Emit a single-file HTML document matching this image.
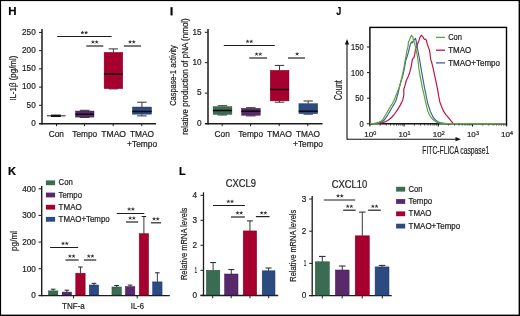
<!DOCTYPE html>
<html><head><meta charset="utf-8"><style>
html,body{margin:0;padding:0;background:#fff;}
body{width:520px;height:316px;overflow:hidden;}
svg{display:block;font-family:"Liberation Sans", sans-serif;will-change:transform;}
</style></head><body>
<svg width="520" height="316" viewBox="0 0 520 316">
<rect width="520" height="316" fill="#fff"/>
<rect x="0" y="0" width="520" height="1.1" fill="#000"/>
<rect x="0" y="0" width="1.1" height="316" fill="#000"/>
<rect x="518.6" y="0" width="1.4" height="316" fill="#000"/>
<rect x="0" y="314.6" width="520" height="1.4" fill="#000"/>
<text x="8.30" y="15.00" font-size="11.8" fill="#000" stroke="#000" stroke-width="0.22" textLength="8.33" lengthAdjust="spacingAndGlyphs" font-weight="bold">H</text>
<text x="336.20" y="15.40" font-size="11.8" fill="#000" stroke="#000" stroke-width="0.22" textLength="5.01" lengthAdjust="spacingAndGlyphs" font-weight="bold">J</text>
<text x="8.10" y="175.10" font-size="11.8" fill="#000" stroke="#000" stroke-width="0.22" textLength="8.02" lengthAdjust="spacingAndGlyphs" font-weight="bold">K</text>
<text x="179.00" y="175.30" font-size="11.8" fill="#000" stroke="#000" stroke-width="0.22" textLength="6.61" lengthAdjust="spacingAndGlyphs" font-weight="bold">L</text>
<rect x="170.5" y="7.2" width="2.1" height="8.2" fill="#000"/>
<line x1="42.00" y1="29.00" x2="42.00" y2="124.40" stroke="#1c1c1c" stroke-width="1.5"/>
<line x1="39.00" y1="123.50" x2="42.00" y2="123.50" stroke="#1c1c1c" stroke-width="1.0"/>
<text x="31.15" y="125.80" font-size="9" fill="#1e1e1e" stroke="#1e1e1e" stroke-width="0.22" textLength="4.56" lengthAdjust="spacingAndGlyphs">0</text>
<line x1="39.00" y1="105.29" x2="42.00" y2="105.29" stroke="#1c1c1c" stroke-width="1.0"/>
<text x="26.60" y="107.59" font-size="9" fill="#1e1e1e" stroke="#1e1e1e" stroke-width="0.22" textLength="9.12" lengthAdjust="spacingAndGlyphs">50</text>
<line x1="39.00" y1="87.08" x2="42.00" y2="87.08" stroke="#1c1c1c" stroke-width="1.0"/>
<text x="22.05" y="89.38" font-size="9" fill="#1e1e1e" stroke="#1e1e1e" stroke-width="0.22" textLength="13.64" lengthAdjust="spacingAndGlyphs">100</text>
<line x1="39.00" y1="68.87" x2="42.00" y2="68.87" stroke="#1c1c1c" stroke-width="1.0"/>
<text x="22.05" y="71.17" font-size="9" fill="#1e1e1e" stroke="#1e1e1e" stroke-width="0.22" textLength="13.64" lengthAdjust="spacingAndGlyphs">150</text>
<line x1="39.00" y1="50.66" x2="42.00" y2="50.66" stroke="#1c1c1c" stroke-width="1.0"/>
<text x="22.05" y="52.96" font-size="9" fill="#1e1e1e" stroke="#1e1e1e" stroke-width="0.22" textLength="13.64" lengthAdjust="spacingAndGlyphs">200</text>
<line x1="39.00" y1="32.45" x2="42.00" y2="32.45" stroke="#1c1c1c" stroke-width="1.0"/>
<text x="22.05" y="34.75" font-size="9" fill="#1e1e1e" stroke="#1e1e1e" stroke-width="0.22" textLength="13.64" lengthAdjust="spacingAndGlyphs">250</text>
<line x1="39.00" y1="123.70" x2="156.00" y2="123.70" stroke="#1c1c1c" stroke-width="1.4"/>
<line x1="56.50" y1="123.50" x2="56.50" y2="126.20" stroke="#1c1c1c" stroke-width="1.0"/>
<line x1="84.50" y1="123.50" x2="84.50" y2="126.20" stroke="#1c1c1c" stroke-width="1.0"/>
<line x1="113.20" y1="123.50" x2="113.20" y2="126.20" stroke="#1c1c1c" stroke-width="1.0"/>
<line x1="141.80" y1="123.50" x2="141.80" y2="126.20" stroke="#1c1c1c" stroke-width="1.0"/>
<text x="48.70" y="136.80" font-size="9" fill="#1e1e1e" stroke="#1e1e1e" stroke-width="0.22" textLength="15.20" lengthAdjust="spacingAndGlyphs">Con</text>
<text x="72.30" y="136.80" font-size="9" fill="#1e1e1e" stroke="#1e1e1e" stroke-width="0.22" textLength="24.81" lengthAdjust="spacingAndGlyphs">Tempo</text>
<text x="101.20" y="136.80" font-size="9" fill="#1e1e1e" stroke="#1e1e1e" stroke-width="0.22" textLength="24.89" lengthAdjust="spacingAndGlyphs">TMAO</text>
<text x="130.00" y="136.80" font-size="9" fill="#1e1e1e" stroke="#1e1e1e" stroke-width="0.22" textLength="23.99" lengthAdjust="spacingAndGlyphs">TMAO</text>
<text x="127.10" y="146.70" font-size="9" fill="#1e1e1e" stroke="#1e1e1e" stroke-width="0.22" textLength="30.00" lengthAdjust="spacingAndGlyphs">+Tempo</text>
<text transform="translate(15.90,100.80) rotate(-90)" x="0" y="0" font-size="9.2" fill="#1e1e1e" stroke="#1e1e1e" stroke-width="0.22" textLength="45.18" lengthAdjust="spacingAndGlyphs">IL-1β (pg/ml)</text>
<line x1="47.00" y1="115.80" x2="65.60" y2="115.80" stroke="#222" stroke-width="1.0"/>
<rect x="51.00" y="114.60" width="9.80" height="2.40" fill="#111"/>
<line x1="84.65" y1="110.30" x2="84.65" y2="111.00" stroke="#222" stroke-width="0.9"/>
<line x1="84.65" y1="117.10" x2="84.65" y2="117.40" stroke="#222" stroke-width="0.9"/>
<line x1="79.80" y1="110.30" x2="89.50" y2="110.30" stroke="#333" stroke-width="1.0"/>
<line x1="79.80" y1="117.40" x2="89.50" y2="117.40" stroke="#333" stroke-width="1.0"/>
<rect x="75.50" y="111.00" width="18.50" height="6.10" fill="#582a6c" stroke="#3a1450" stroke-width="0.4"/>
<line x1="75.30" y1="114.20" x2="94.00" y2="114.20" stroke="#0a0a0a" stroke-width="1.5"/>
<line x1="113.35" y1="48.90" x2="113.35" y2="52.30" stroke="#222" stroke-width="0.9"/>
<line x1="113.35" y1="88.70" x2="113.35" y2="88.90" stroke="#222" stroke-width="0.9"/>
<line x1="108.60" y1="48.90" x2="118.10" y2="48.90" stroke="#333" stroke-width="1.0"/>
<line x1="108.60" y1="88.90" x2="118.10" y2="88.90" stroke="#333" stroke-width="1.0"/>
<rect x="104.10" y="52.30" width="18.70" height="36.40" fill="#a6002f" stroke="#8a0025" stroke-width="0.4"/>
<line x1="103.90" y1="74.10" x2="122.80" y2="74.10" stroke="#0a0a0a" stroke-width="1.5"/>
<line x1="141.90" y1="102.20" x2="141.90" y2="107.00" stroke="#222" stroke-width="0.9"/>
<line x1="141.90" y1="114.20" x2="141.90" y2="115.90" stroke="#222" stroke-width="0.9"/>
<line x1="137.15" y1="102.20" x2="146.65" y2="102.20" stroke="#333" stroke-width="1.0"/>
<line x1="137.15" y1="115.90" x2="146.65" y2="115.90" stroke="#333" stroke-width="1.0"/>
<rect x="132.40" y="107.00" width="19.20" height="7.20" fill="#2c4b80" stroke="#1a336a" stroke-width="0.4"/>
<line x1="132.20" y1="111.50" x2="151.60" y2="111.50" stroke="#0a0a0a" stroke-width="1.5"/>
<line x1="57.20" y1="36.50" x2="111.70" y2="36.50" stroke="#1c1c1c" stroke-width="1.0"/>
<path d="M82.45,32.70L82.45,31.45M82.45,32.70L83.64,32.31M82.45,32.70L83.18,33.71M82.45,32.70L81.72,33.71M82.45,32.70L81.26,32.31" stroke="#2a2a2a" stroke-width="0.85" stroke-linecap="round" fill="none"/>
<path d="M86.15,32.70L86.15,31.45M86.15,32.70L87.34,32.31M86.15,32.70L86.88,33.71M86.15,32.70L85.42,33.71M86.15,32.70L84.96,32.31" stroke="#2a2a2a" stroke-width="0.85" stroke-linecap="round" fill="none"/>
<line x1="86.30" y1="46.00" x2="103.30" y2="46.00" stroke="#222" stroke-width="1.2"/>
<path d="M92.95,42.10L92.95,40.85M92.95,42.10L94.14,41.71M92.95,42.10L93.68,43.11M92.95,42.10L92.22,43.11M92.95,42.10L91.76,41.71" stroke="#2a2a2a" stroke-width="0.85" stroke-linecap="round" fill="none"/>
<path d="M96.65,42.10L96.65,40.85M96.65,42.10L97.84,41.71M96.65,42.10L97.38,43.11M96.65,42.10L95.92,43.11M96.65,42.10L95.46,41.71" stroke="#2a2a2a" stroke-width="0.85" stroke-linecap="round" fill="none"/>
<line x1="123.80" y1="46.00" x2="141.00" y2="46.00" stroke="#222" stroke-width="1.2"/>
<path d="M130.05,42.00L130.05,40.75M130.05,42.00L131.24,41.61M130.05,42.00L130.78,43.01M130.05,42.00L129.32,43.01M130.05,42.00L128.86,41.61" stroke="#2a2a2a" stroke-width="0.85" stroke-linecap="round" fill="none"/>
<path d="M133.75,42.00L133.75,40.75M133.75,42.00L134.94,41.61M133.75,42.00L134.48,43.01M133.75,42.00L133.02,43.01M133.75,42.00L132.56,41.61" stroke="#2a2a2a" stroke-width="0.85" stroke-linecap="round" fill="none"/>
<line x1="208.00" y1="29.00" x2="208.00" y2="124.40" stroke="#1c1c1c" stroke-width="1.5"/>
<line x1="204.80" y1="123.50" x2="207.80" y2="123.50" stroke="#1c1c1c" stroke-width="1.0"/>
<text x="196.95" y="125.80" font-size="9" fill="#1e1e1e" stroke="#1e1e1e" stroke-width="0.22" textLength="4.56" lengthAdjust="spacingAndGlyphs">0</text>
<line x1="204.80" y1="93.10" x2="207.80" y2="93.10" stroke="#1c1c1c" stroke-width="1.0"/>
<text x="196.95" y="95.40" font-size="9" fill="#1e1e1e" stroke="#1e1e1e" stroke-width="0.22" textLength="4.56" lengthAdjust="spacingAndGlyphs">5</text>
<line x1="204.80" y1="62.70" x2="207.80" y2="62.70" stroke="#1c1c1c" stroke-width="1.0"/>
<text x="192.40" y="65.00" font-size="9" fill="#1e1e1e" stroke="#1e1e1e" stroke-width="0.22" textLength="9.12" lengthAdjust="spacingAndGlyphs">10</text>
<line x1="204.80" y1="32.30" x2="207.80" y2="32.30" stroke="#1c1c1c" stroke-width="1.0"/>
<text x="192.40" y="34.60" font-size="9" fill="#1e1e1e" stroke="#1e1e1e" stroke-width="0.22" textLength="9.12" lengthAdjust="spacingAndGlyphs">15</text>
<line x1="205.00" y1="123.70" x2="322.50" y2="123.70" stroke="#1c1c1c" stroke-width="1.4"/>
<line x1="222.20" y1="123.50" x2="222.20" y2="126.20" stroke="#1c1c1c" stroke-width="1.0"/>
<line x1="250.60" y1="123.50" x2="250.60" y2="126.20" stroke="#1c1c1c" stroke-width="1.0"/>
<line x1="279.20" y1="123.50" x2="279.20" y2="126.20" stroke="#1c1c1c" stroke-width="1.0"/>
<line x1="307.80" y1="123.50" x2="307.80" y2="126.20" stroke="#1c1c1c" stroke-width="1.0"/>
<text x="214.60" y="137.10" font-size="9" fill="#1e1e1e" stroke="#1e1e1e" stroke-width="0.22" textLength="15.20" lengthAdjust="spacingAndGlyphs">Con</text>
<text x="238.20" y="137.10" font-size="9" fill="#1e1e1e" stroke="#1e1e1e" stroke-width="0.22" textLength="24.81" lengthAdjust="spacingAndGlyphs">Tempo</text>
<text x="267.10" y="137.10" font-size="9" fill="#1e1e1e" stroke="#1e1e1e" stroke-width="0.22" textLength="24.89" lengthAdjust="spacingAndGlyphs">TMAO</text>
<text x="295.90" y="137.10" font-size="9" fill="#1e1e1e" stroke="#1e1e1e" stroke-width="0.22" textLength="23.99" lengthAdjust="spacingAndGlyphs">TMAO</text>
<text x="293.00" y="147.00" font-size="9" fill="#1e1e1e" stroke="#1e1e1e" stroke-width="0.22" textLength="30.00" lengthAdjust="spacingAndGlyphs">+Tempo</text>
<text transform="translate(176.20,105.80) rotate(-90)" x="0" y="0" font-size="9" fill="#1e1e1e" stroke="#1e1e1e" stroke-width="0.22" textLength="60.60" lengthAdjust="spacingAndGlyphs">Caspase-1 activity</text>
<text transform="translate(188.40,134.80) rotate(-90)" x="0" y="0" font-size="9" fill="#1e1e1e" stroke="#1e1e1e" stroke-width="0.22" textLength="116.58" lengthAdjust="spacingAndGlyphs">relative production of pNA (nmol)</text>
<line x1="222.40" y1="105.70" x2="222.40" y2="106.60" stroke="#222" stroke-width="0.9"/>
<line x1="222.40" y1="114.40" x2="222.40" y2="115.00" stroke="#222" stroke-width="0.9"/>
<line x1="217.70" y1="105.70" x2="227.10" y2="105.70" stroke="#333" stroke-width="1.0"/>
<line x1="217.70" y1="115.00" x2="227.10" y2="115.00" stroke="#333" stroke-width="1.0"/>
<rect x="213.10" y="106.60" width="18.80" height="7.80" fill="#3a6b53" stroke="#1f4a35" stroke-width="0.4"/>
<line x1="212.90" y1="110.50" x2="231.90" y2="110.50" stroke="#0a0a0a" stroke-width="1.5"/>
<line x1="250.80" y1="107.70" x2="250.80" y2="108.30" stroke="#222" stroke-width="0.9"/>
<line x1="250.80" y1="115.30" x2="250.80" y2="115.90" stroke="#222" stroke-width="0.9"/>
<line x1="246.05" y1="107.70" x2="255.55" y2="107.70" stroke="#333" stroke-width="1.0"/>
<line x1="246.05" y1="115.90" x2="255.55" y2="115.90" stroke="#333" stroke-width="1.0"/>
<rect x="241.50" y="108.30" width="18.80" height="7.00" fill="#582a6c" stroke="#3a1450" stroke-width="0.4"/>
<line x1="241.30" y1="111.20" x2="260.30" y2="111.20" stroke="#0a0a0a" stroke-width="1.5"/>
<line x1="279.50" y1="65.40" x2="279.50" y2="70.30" stroke="#222" stroke-width="0.9"/>
<line x1="279.50" y1="100.90" x2="279.50" y2="102.20" stroke="#222" stroke-width="0.9"/>
<line x1="274.75" y1="65.40" x2="284.25" y2="65.40" stroke="#333" stroke-width="1.0"/>
<line x1="274.75" y1="102.20" x2="284.25" y2="102.20" stroke="#333" stroke-width="1.0"/>
<rect x="270.20" y="70.30" width="18.80" height="30.60" fill="#a6002f" stroke="#8a0025" stroke-width="0.4"/>
<line x1="270.00" y1="89.50" x2="289.00" y2="89.50" stroke="#0a0a0a" stroke-width="1.5"/>
<line x1="308.20" y1="101.00" x2="308.20" y2="103.60" stroke="#222" stroke-width="0.9"/>
<line x1="308.20" y1="113.70" x2="308.20" y2="114.20" stroke="#222" stroke-width="0.9"/>
<line x1="303.50" y1="101.00" x2="312.90" y2="101.00" stroke="#333" stroke-width="1.0"/>
<line x1="303.50" y1="114.20" x2="312.90" y2="114.20" stroke="#333" stroke-width="1.0"/>
<rect x="298.90" y="103.60" width="18.80" height="10.10" fill="#2c4b80" stroke="#1a336a" stroke-width="0.4"/>
<line x1="298.70" y1="111.20" x2="317.70" y2="111.20" stroke="#0a0a0a" stroke-width="1.5"/>
<line x1="223.80" y1="45.50" x2="274.80" y2="45.50" stroke="#1c1c1c" stroke-width="1.0"/>
<path d="M247.55,41.50L247.55,40.25M247.55,41.50L248.74,41.11M247.55,41.50L248.28,42.51M247.55,41.50L246.82,42.51M247.55,41.50L246.36,41.11" stroke="#2a2a2a" stroke-width="0.85" stroke-linecap="round" fill="none"/>
<path d="M251.25,41.50L251.25,40.25M251.25,41.50L252.44,41.11M251.25,41.50L251.98,42.51M251.25,41.50L250.52,42.51M251.25,41.50L250.06,41.11" stroke="#2a2a2a" stroke-width="0.85" stroke-linecap="round" fill="none"/>
<line x1="249.20" y1="58.00" x2="267.10" y2="58.00" stroke="#222" stroke-width="1.2"/>
<path d="M256.55,54.20L256.55,52.95M256.55,54.20L257.74,53.81M256.55,54.20L257.28,55.21M256.55,54.20L255.82,55.21M256.55,54.20L255.36,53.81" stroke="#2a2a2a" stroke-width="0.85" stroke-linecap="round" fill="none"/>
<path d="M260.25,54.20L260.25,52.95M260.25,54.20L261.44,53.81M260.25,54.20L260.98,55.21M260.25,54.20L259.52,55.21M260.25,54.20L259.06,53.81" stroke="#2a2a2a" stroke-width="0.85" stroke-linecap="round" fill="none"/>
<line x1="288.00" y1="58.00" x2="305.00" y2="58.00" stroke="#222" stroke-width="1.2"/>
<path d="M297.10,54.00L297.10,52.75M297.10,54.00L298.29,53.61M297.10,54.00L297.83,55.01M297.10,54.00L296.37,55.01M297.10,54.00L295.91,53.61" stroke="#2a2a2a" stroke-width="0.85" stroke-linecap="round" fill="none"/>
<rect x="369.9" y="27.4" width="136.6" height="96.4" fill="none" stroke="#000" stroke-width="1.4"/>
<line x1="367.00" y1="123.80" x2="370.00" y2="123.80" stroke="#1c1c1c" stroke-width="1.0"/>
<text x="359.50" y="126.80" font-size="9" fill="#1e1e1e" stroke="#1e1e1e" stroke-width="0.22" textLength="4.21" lengthAdjust="spacingAndGlyphs">0</text>
<line x1="367.00" y1="98.20" x2="370.00" y2="98.20" stroke="#1c1c1c" stroke-width="1.0"/>
<text x="355.30" y="101.20" font-size="9" fill="#1e1e1e" stroke="#1e1e1e" stroke-width="0.22" textLength="8.42" lengthAdjust="spacingAndGlyphs">50</text>
<line x1="367.00" y1="72.60" x2="370.00" y2="72.60" stroke="#1c1c1c" stroke-width="1.0"/>
<text x="351.10" y="75.60" font-size="9" fill="#1e1e1e" stroke="#1e1e1e" stroke-width="0.22" textLength="12.59" lengthAdjust="spacingAndGlyphs">100</text>
<line x1="367.00" y1="47.00" x2="370.00" y2="47.00" stroke="#1c1c1c" stroke-width="1.0"/>
<text x="351.10" y="50.00" font-size="9" fill="#1e1e1e" stroke="#1e1e1e" stroke-width="0.22" textLength="12.59" lengthAdjust="spacingAndGlyphs">150</text>
<line x1="380.20" y1="123.80" x2="380.20" y2="125.60" stroke="#222" stroke-width="0.8"/>
<line x1="386.22" y1="123.80" x2="386.22" y2="125.60" stroke="#222" stroke-width="0.8"/>
<line x1="390.49" y1="123.80" x2="390.49" y2="125.60" stroke="#222" stroke-width="0.8"/>
<line x1="393.80" y1="123.80" x2="393.80" y2="125.60" stroke="#222" stroke-width="0.8"/>
<line x1="396.51" y1="123.80" x2="396.51" y2="125.60" stroke="#222" stroke-width="0.8"/>
<line x1="398.80" y1="123.80" x2="398.80" y2="125.60" stroke="#222" stroke-width="0.8"/>
<line x1="400.79" y1="123.80" x2="400.79" y2="125.60" stroke="#222" stroke-width="0.8"/>
<line x1="402.54" y1="123.80" x2="402.54" y2="125.60" stroke="#222" stroke-width="0.8"/>
<line x1="414.40" y1="123.80" x2="414.40" y2="125.60" stroke="#222" stroke-width="0.8"/>
<line x1="420.42" y1="123.80" x2="420.42" y2="125.60" stroke="#222" stroke-width="0.8"/>
<line x1="424.69" y1="123.80" x2="424.69" y2="125.60" stroke="#222" stroke-width="0.8"/>
<line x1="428.00" y1="123.80" x2="428.00" y2="125.60" stroke="#222" stroke-width="0.8"/>
<line x1="430.71" y1="123.80" x2="430.71" y2="125.60" stroke="#222" stroke-width="0.8"/>
<line x1="433.00" y1="123.80" x2="433.00" y2="125.60" stroke="#222" stroke-width="0.8"/>
<line x1="434.99" y1="123.80" x2="434.99" y2="125.60" stroke="#222" stroke-width="0.8"/>
<line x1="436.74" y1="123.80" x2="436.74" y2="125.60" stroke="#222" stroke-width="0.8"/>
<line x1="448.60" y1="123.80" x2="448.60" y2="125.60" stroke="#222" stroke-width="0.8"/>
<line x1="454.62" y1="123.80" x2="454.62" y2="125.60" stroke="#222" stroke-width="0.8"/>
<line x1="458.89" y1="123.80" x2="458.89" y2="125.60" stroke="#222" stroke-width="0.8"/>
<line x1="462.20" y1="123.80" x2="462.20" y2="125.60" stroke="#222" stroke-width="0.8"/>
<line x1="464.91" y1="123.80" x2="464.91" y2="125.60" stroke="#222" stroke-width="0.8"/>
<line x1="467.20" y1="123.80" x2="467.20" y2="125.60" stroke="#222" stroke-width="0.8"/>
<line x1="469.19" y1="123.80" x2="469.19" y2="125.60" stroke="#222" stroke-width="0.8"/>
<line x1="470.94" y1="123.80" x2="470.94" y2="125.60" stroke="#222" stroke-width="0.8"/>
<line x1="482.80" y1="123.80" x2="482.80" y2="125.60" stroke="#222" stroke-width="0.8"/>
<line x1="488.82" y1="123.80" x2="488.82" y2="125.60" stroke="#222" stroke-width="0.8"/>
<line x1="493.09" y1="123.80" x2="493.09" y2="125.60" stroke="#222" stroke-width="0.8"/>
<line x1="496.40" y1="123.80" x2="496.40" y2="125.60" stroke="#222" stroke-width="0.8"/>
<line x1="499.11" y1="123.80" x2="499.11" y2="125.60" stroke="#222" stroke-width="0.8"/>
<line x1="501.40" y1="123.80" x2="501.40" y2="125.60" stroke="#222" stroke-width="0.8"/>
<line x1="503.39" y1="123.80" x2="503.39" y2="125.60" stroke="#222" stroke-width="0.8"/>
<line x1="505.14" y1="123.80" x2="505.14" y2="125.60" stroke="#222" stroke-width="0.8"/>
<line x1="369.90" y1="123.80" x2="369.90" y2="126.50" stroke="#000" stroke-width="1.0"/>
<line x1="404.10" y1="123.80" x2="404.10" y2="126.50" stroke="#000" stroke-width="1.0"/>
<line x1="438.30" y1="123.80" x2="438.30" y2="126.50" stroke="#000" stroke-width="1.0"/>
<line x1="472.50" y1="123.80" x2="472.50" y2="126.50" stroke="#000" stroke-width="1.0"/>
<line x1="506.70" y1="123.80" x2="506.70" y2="126.50" stroke="#000" stroke-width="1.0"/>
<text x="364.30" y="137.30" font-size="8.0" fill="#1e1e1e" stroke="#1e1e1e" stroke-width="0.22" textLength="8.92" lengthAdjust="spacingAndGlyphs">10</text>
<text x="373.30" y="134.70" font-size="5.5" fill="#1e1e1e" stroke="#1e1e1e" stroke-width="0.22" textLength="3.01" lengthAdjust="spacingAndGlyphs">0</text>
<text x="398.50" y="137.30" font-size="8.0" fill="#1e1e1e" stroke="#1e1e1e" stroke-width="0.22" textLength="8.92" lengthAdjust="spacingAndGlyphs">10</text>
<text x="407.50" y="134.70" font-size="5.5" fill="#1e1e1e" stroke="#1e1e1e" stroke-width="0.22" textLength="3.01" lengthAdjust="spacingAndGlyphs">1</text>
<text x="432.70" y="137.30" font-size="8.0" fill="#1e1e1e" stroke="#1e1e1e" stroke-width="0.22" textLength="8.92" lengthAdjust="spacingAndGlyphs">10</text>
<text x="441.70" y="134.70" font-size="5.5" fill="#1e1e1e" stroke="#1e1e1e" stroke-width="0.22" textLength="3.01" lengthAdjust="spacingAndGlyphs">2</text>
<text x="466.90" y="137.30" font-size="8.0" fill="#1e1e1e" stroke="#1e1e1e" stroke-width="0.22" textLength="8.92" lengthAdjust="spacingAndGlyphs">10</text>
<text x="475.90" y="134.70" font-size="5.5" fill="#1e1e1e" stroke="#1e1e1e" stroke-width="0.22" textLength="3.01" lengthAdjust="spacingAndGlyphs">3</text>
<text x="501.10" y="137.30" font-size="8.0" fill="#1e1e1e" stroke="#1e1e1e" stroke-width="0.22" textLength="8.92" lengthAdjust="spacingAndGlyphs">10</text>
<text x="510.10" y="134.70" font-size="5.5" fill="#1e1e1e" stroke="#1e1e1e" stroke-width="0.22" textLength="3.01" lengthAdjust="spacingAndGlyphs">4</text>
<line x1="347.00" y1="139.20" x2="457.00" y2="139.20" stroke="#111" stroke-width="1.1"/>
<path d="M461,139.2 L455.5,137.1 L455.5,141.3 Z" fill="#111"/>
<line x1="347.00" y1="139.80" x2="347.00" y2="43.00" stroke="#111" stroke-width="1.1"/>
<path d="M347,39 L344.9,44.5 L349.1,44.5 Z" fill="#111"/>
<text transform="translate(342.20,100.30) rotate(-90)" x="0" y="0" font-size="10.6" fill="#1e1e1e" stroke="#1e1e1e" stroke-width="0.22" textLength="20.29" lengthAdjust="spacingAndGlyphs">Count</text>
<text x="422.30" y="153.50" font-size="10.6" fill="#1e1e1e" stroke="#1e1e1e" stroke-width="0.22" textLength="66.92" lengthAdjust="spacingAndGlyphs">FITC-FLICA caspase1</text>
<line x1="436.00" y1="37.40" x2="445.00" y2="37.40" stroke="#5aa53c" stroke-width="1.3"/>
<text x="448.20" y="40.10" font-size="8.2" fill="#1e1e1e" stroke="#1e1e1e" stroke-width="0.22" textLength="13.80" lengthAdjust="spacingAndGlyphs">Con</text>
<line x1="436.00" y1="50.20" x2="445.00" y2="50.20" stroke="#c01440" stroke-width="1.3"/>
<text x="448.20" y="52.90" font-size="8.2" fill="#1e1e1e" stroke="#1e1e1e" stroke-width="0.22" textLength="22.99" lengthAdjust="spacingAndGlyphs">TMAO</text>
<line x1="436.00" y1="62.90" x2="445.00" y2="62.90" stroke="#42609c" stroke-width="1.3"/>
<text x="448.20" y="65.60" font-size="8.2" fill="#1e1e1e" stroke="#1e1e1e" stroke-width="0.22" textLength="51.79" lengthAdjust="spacingAndGlyphs">TMAO+Tempo</text>
<polyline points="370,123.8 379.5,123.2 382.5,122.6 385.7,121.6 388.5,120.0 391,118 393.8,115.0 396.2,111.7 398.4,108.4 400.4,104.9 402.0,101.8 403.0,99.2 403.8,95.0 403.8,89.3 405.2,84.9 406.3,80.5 408.0,77.1 409.6,72.7 411.3,66.1 412.4,59.4 413.5,57.8 414.0,57.5 414.7,54.7 415.2,50.9 415.9,48.0 416.9,46.6 417.8,43.3 419.0,40.4 420.1,37.1 421.3,35.2 422.8,36.6 423.7,38.5 424.5,39.5 425.4,39.0 426.4,40.4 427.3,44.2 428.3,47.1 429.4,49.9 430.2,54.7 430.7,59.4 431.8,62.8 433.2,68.3 434.5,74.9 436.2,82.7 437.6,89.3 438.5,95.0 439.8,101.9 441.5,106.5 443.7,111.4 446.0,114.8 448.5,117.7 451.0,120.8 453.2,123.5 506,123.6" fill="none" stroke="#c01440" stroke-width="1.2" stroke-linejoin="round"/>
<polyline points="370,123.7 378,123.4 381,122.3 383.7,120.6 385.8,117.8 387.8,114.8 390,111.0 392,107.5 394.0,104.2 395.7,101.3 397.0,97.0 398.3,92.0 399.7,86.0 401.3,80.5 403.0,74.9 404.4,68.3 405.8,60.5 406.9,57.2 407.5,55.3 408.5,51.8 409.5,47.6 410.4,44.2 411.9,41.9 412.6,42.5 413.5,40.5 415.4,38.3 416.1,40.4 416.6,44.2 417.6,49.0 418.5,53.7 419.4,58.5 420.7,66.1 421.8,72.7 423.2,80.5 424.6,88.2 425.5,92.5 427.5,102.5 430.3,111.4 433.4,117.7 435.5,120.0 437.4,121.5 442,123.2 446,123.6 506,123.6" fill="none" stroke="#42609c" stroke-width="1.2" stroke-linejoin="round"/>
<polyline points="370,123.6 375,123.3 378.4,122.3 380.8,121.3 382.6,120 384.6,116.5 386.8,112.7 388.6,109.6 390.4,106.5 392.2,103.8 393.6,101.3 394.8,98.5 395.8,95.6 397.4,91.6 399.1,88.2 400.8,81.6 402.4,74.9 403.8,68.3 404.9,61.6 405.5,58.5 406.2,54.7 407.1,49.9 408.1,46.1 408.5,41.4 409.5,40.5 409.7,39.5 410.4,37.1 411.6,35.2 412.8,37.1 413.3,39.5 414.2,42.3 415.2,45.7 416.1,49.9 417.1,54.7 417.9,59.5 419.0,69.4 420.1,76.0 421.3,81.6 422.4,88.2 423.5,92.5 425.5,101.9 427.9,111.4 429.5,115.0 431.1,117.7 433.0,119.6 435,121 437.5,122.4 440,123.2 446,123.6 506,123.6" fill="none" stroke="#5aa53c" stroke-width="1.2" stroke-linejoin="round"/>
<line x1="41.70" y1="186.00" x2="41.70" y2="296.30" stroke="#1c1c1c" stroke-width="1.4"/>
<line x1="38.50" y1="295.40" x2="41.50" y2="295.40" stroke="#1c1c1c" stroke-width="1.0"/>
<text x="31.25" y="298.40" font-size="9" fill="#1e1e1e" stroke="#1e1e1e" stroke-width="0.22" textLength="4.56" lengthAdjust="spacingAndGlyphs">0</text>
<line x1="38.50" y1="268.75" x2="41.50" y2="268.75" stroke="#1c1c1c" stroke-width="1.0"/>
<text x="22.15" y="271.75" font-size="9" fill="#1e1e1e" stroke="#1e1e1e" stroke-width="0.22" textLength="13.64" lengthAdjust="spacingAndGlyphs">100</text>
<line x1="38.50" y1="242.10" x2="41.50" y2="242.10" stroke="#1c1c1c" stroke-width="1.0"/>
<text x="22.15" y="245.10" font-size="9" fill="#1e1e1e" stroke="#1e1e1e" stroke-width="0.22" textLength="13.64" lengthAdjust="spacingAndGlyphs">200</text>
<line x1="38.50" y1="215.45" x2="41.50" y2="215.45" stroke="#1c1c1c" stroke-width="1.0"/>
<text x="22.15" y="218.45" font-size="9" fill="#1e1e1e" stroke="#1e1e1e" stroke-width="0.22" textLength="13.64" lengthAdjust="spacingAndGlyphs">300</text>
<line x1="38.50" y1="188.80" x2="41.50" y2="188.80" stroke="#1c1c1c" stroke-width="1.0"/>
<text x="22.15" y="191.80" font-size="9" fill="#1e1e1e" stroke="#1e1e1e" stroke-width="0.22" textLength="13.64" lengthAdjust="spacingAndGlyphs">400</text>
<line x1="38.70" y1="295.60" x2="169.80" y2="295.60" stroke="#1c1c1c" stroke-width="1.4"/>
<line x1="73.50" y1="295.40" x2="73.50" y2="298.40" stroke="#1c1c1c" stroke-width="1.0"/>
<line x1="137.20" y1="295.40" x2="137.20" y2="298.40" stroke="#1c1c1c" stroke-width="1.0"/>
<text x="62.00" y="309.20" font-size="9" fill="#1e1e1e" stroke="#1e1e1e" stroke-width="0.22" textLength="22.78" lengthAdjust="spacingAndGlyphs">TNF-a</text>
<text x="130.80" y="309.00" font-size="9" fill="#1e1e1e" stroke="#1e1e1e" stroke-width="0.22" textLength="13.19" lengthAdjust="spacingAndGlyphs">IL-6</text>
<text transform="translate(17.00,251.00) rotate(-90)" x="0" y="0" font-size="9.9" fill="#1e1e1e" stroke="#1e1e1e" stroke-width="0.22" textLength="20.20" lengthAdjust="spacingAndGlyphs">pg/ml</text>
<rect x="45.90" y="180.40" width="9.20" height="4.80" fill="#3a6b53"/>
<text x="58.60" y="185.30" font-size="8.2" fill="#1e1e1e" stroke="#1e1e1e" stroke-width="0.22" textLength="14.20" lengthAdjust="spacingAndGlyphs">Con</text>
<rect x="45.90" y="192.60" width="9.20" height="4.80" fill="#582a6c"/>
<text x="58.60" y="197.50" font-size="8.2" fill="#1e1e1e" stroke="#1e1e1e" stroke-width="0.22" textLength="23.41" lengthAdjust="spacingAndGlyphs">Tempo</text>
<rect x="45.90" y="204.80" width="9.20" height="4.80" fill="#a6002f"/>
<text x="58.60" y="209.70" font-size="8.2" fill="#1e1e1e" stroke="#1e1e1e" stroke-width="0.22" textLength="23.09" lengthAdjust="spacingAndGlyphs">TMAO</text>
<rect x="45.90" y="216.90" width="9.20" height="4.80" fill="#2c4b80"/>
<text x="58.60" y="221.80" font-size="8.2" fill="#1e1e1e" stroke="#1e1e1e" stroke-width="0.22" textLength="51.09" lengthAdjust="spacingAndGlyphs">TMAO+Tempo</text>
<line x1="53.15" y1="289.20" x2="53.15" y2="290.90" stroke="#222" stroke-width="0.9"/>
<line x1="50.85" y1="289.20" x2="55.45" y2="289.20" stroke="#222" stroke-width="1.0"/>
<rect x="48.45" y="290.90" width="9.40" height="4.10" fill="#3a6b53" stroke="#1f4a35" stroke-width="0.5"/>
<line x1="66.85" y1="290.20" x2="66.85" y2="292.10" stroke="#222" stroke-width="0.9"/>
<line x1="64.55" y1="290.20" x2="69.15" y2="290.20" stroke="#222" stroke-width="1.0"/>
<rect x="62.15" y="292.10" width="9.40" height="2.90" fill="#582a6c" stroke="#3a1450" stroke-width="0.5"/>
<line x1="80.45" y1="267.00" x2="80.45" y2="273.20" stroke="#222" stroke-width="0.9"/>
<line x1="78.15" y1="267.00" x2="82.75" y2="267.00" stroke="#222" stroke-width="1.0"/>
<rect x="75.75" y="273.20" width="9.40" height="21.80" fill="#a6002f" stroke="#8a0025" stroke-width="0.5"/>
<line x1="93.95" y1="283.30" x2="93.95" y2="285.00" stroke="#222" stroke-width="0.9"/>
<line x1="91.65" y1="283.30" x2="96.25" y2="283.30" stroke="#222" stroke-width="1.0"/>
<rect x="89.25" y="285.00" width="9.40" height="10.00" fill="#2c4b80" stroke="#1a336a" stroke-width="0.5"/>
<line x1="116.65" y1="285.50" x2="116.65" y2="287.00" stroke="#222" stroke-width="0.9"/>
<line x1="114.35" y1="285.50" x2="118.95" y2="285.50" stroke="#222" stroke-width="1.0"/>
<rect x="111.95" y="287.00" width="9.40" height="8.00" fill="#3a6b53" stroke="#1f4a35" stroke-width="0.5"/>
<line x1="130.15" y1="285.10" x2="130.15" y2="286.60" stroke="#222" stroke-width="0.9"/>
<line x1="127.85" y1="285.10" x2="132.45" y2="285.10" stroke="#222" stroke-width="1.0"/>
<rect x="125.45" y="286.60" width="9.40" height="8.40" fill="#582a6c" stroke="#3a1450" stroke-width="0.5"/>
<line x1="143.90" y1="216.50" x2="143.90" y2="233.60" stroke="#222" stroke-width="0.9"/>
<line x1="141.60" y1="216.50" x2="146.20" y2="216.50" stroke="#222" stroke-width="1.0"/>
<rect x="139.20" y="233.60" width="9.40" height="61.40" fill="#a6002f" stroke="#8a0025" stroke-width="0.5"/>
<line x1="157.35" y1="272.80" x2="157.35" y2="281.90" stroke="#222" stroke-width="0.9"/>
<line x1="155.05" y1="272.80" x2="159.65" y2="272.80" stroke="#222" stroke-width="1.0"/>
<rect x="152.65" y="281.90" width="9.40" height="13.10" fill="#2c4b80" stroke="#1a336a" stroke-width="0.5"/>
<line x1="50.10" y1="247.50" x2="78.20" y2="247.50" stroke="#1c1c1c" stroke-width="1.0"/>
<path d="M63.05,243.50L63.05,242.25M63.05,243.50L64.24,243.11M63.05,243.50L63.78,244.51M63.05,243.50L62.32,244.51M63.05,243.50L61.86,243.11" stroke="#2a2a2a" stroke-width="0.85" stroke-linecap="round" fill="none"/>
<path d="M66.75,243.50L66.75,242.25M66.75,243.50L67.94,243.11M66.75,243.50L67.48,244.51M66.75,243.50L66.02,244.51M66.75,243.50L65.56,243.11" stroke="#2a2a2a" stroke-width="0.85" stroke-linecap="round" fill="none"/>
<line x1="65.50" y1="260.00" x2="78.60" y2="260.00" stroke="#222" stroke-width="1.2"/>
<path d="M69.85,256.20L69.85,254.95M69.85,256.20L71.04,255.81M69.85,256.20L70.58,257.21M69.85,256.20L69.12,257.21M69.85,256.20L68.66,255.81" stroke="#2a2a2a" stroke-width="0.85" stroke-linecap="round" fill="none"/>
<path d="M73.55,256.20L73.55,254.95M73.55,256.20L74.74,255.81M73.55,256.20L74.28,257.21M73.55,256.20L72.82,257.21M73.55,256.20L72.36,255.81" stroke="#2a2a2a" stroke-width="0.85" stroke-linecap="round" fill="none"/>
<line x1="83.90" y1="260.00" x2="96.20" y2="260.00" stroke="#222" stroke-width="1.2"/>
<path d="M88.75,256.20L88.75,254.95M88.75,256.20L89.94,255.81M88.75,256.20L89.48,257.21M88.75,256.20L88.02,257.21M88.75,256.20L87.56,255.81" stroke="#2a2a2a" stroke-width="0.85" stroke-linecap="round" fill="none"/>
<path d="M92.45,256.20L92.45,254.95M92.45,256.20L93.64,255.81M92.45,256.20L93.18,257.21M92.45,256.20L91.72,257.21M92.45,256.20L91.26,255.81" stroke="#2a2a2a" stroke-width="0.85" stroke-linecap="round" fill="none"/>
<line x1="116.80" y1="213.50" x2="144.30" y2="213.50" stroke="#1c1c1c" stroke-width="1.0"/>
<path d="M129.15,209.20L129.15,207.95M129.15,209.20L130.34,208.81M129.15,209.20L129.88,210.21M129.15,209.20L128.42,210.21M129.15,209.20L127.96,208.81" stroke="#2a2a2a" stroke-width="0.85" stroke-linecap="round" fill="none"/>
<path d="M132.85,209.20L132.85,207.95M132.85,209.20L134.04,208.81M132.85,209.20L133.58,210.21M132.85,209.20L132.12,210.21M132.85,209.20L131.66,208.81" stroke="#2a2a2a" stroke-width="0.85" stroke-linecap="round" fill="none"/>
<line x1="125.90" y1="222.00" x2="138.20" y2="222.00" stroke="#222" stroke-width="1.2"/>
<path d="M130.15,218.20L130.15,216.95M130.15,218.20L131.34,217.81M130.15,218.20L130.88,219.21M130.15,218.20L129.42,219.21M130.15,218.20L128.96,217.81" stroke="#2a2a2a" stroke-width="0.85" stroke-linecap="round" fill="none"/>
<path d="M133.85,218.20L133.85,216.95M133.85,218.20L135.04,217.81M133.85,218.20L134.58,219.21M133.85,218.20L133.12,219.21M133.85,218.20L132.66,217.81" stroke="#2a2a2a" stroke-width="0.85" stroke-linecap="round" fill="none"/>
<line x1="150.90" y1="222.80" x2="161.00" y2="222.80" stroke="#222" stroke-width="1.2"/>
<path d="M154.05,219.00L154.05,217.75M154.05,219.00L155.24,218.61M154.05,219.00L154.78,220.01M154.05,219.00L153.32,220.01M154.05,219.00L152.86,218.61" stroke="#2a2a2a" stroke-width="0.85" stroke-linecap="round" fill="none"/>
<path d="M157.75,219.00L157.75,217.75M157.75,219.00L158.94,218.61M157.75,219.00L158.48,220.01M157.75,219.00L157.02,220.01M157.75,219.00L156.56,218.61" stroke="#2a2a2a" stroke-width="0.85" stroke-linecap="round" fill="none"/>
<text x="225.80" y="186.50" font-size="10.6" fill="#1e1e1e" stroke="#1e1e1e" stroke-width="0.22" textLength="30.09" lengthAdjust="spacingAndGlyphs">CXCL9</text>
<line x1="203.50" y1="192.30" x2="203.50" y2="296.10" stroke="#1c1c1c" stroke-width="1.3"/>
<line x1="200.50" y1="295.30" x2="203.50" y2="295.30" stroke="#1c1c1c" stroke-width="1.0"/>
<text x="192.45" y="297.90" font-size="9" fill="#1e1e1e" stroke="#1e1e1e" stroke-width="0.22" textLength="4.56" lengthAdjust="spacingAndGlyphs">0</text>
<line x1="200.50" y1="270.30" x2="203.50" y2="270.30" stroke="#1c1c1c" stroke-width="1.0"/>
<text x="194.40" y="272.90" font-size="9" fill="#1e1e1e" stroke="#1e1e1e" stroke-width="0.22" textLength="2.61" lengthAdjust="spacingAndGlyphs">1</text>
<line x1="200.50" y1="245.30" x2="203.50" y2="245.30" stroke="#1c1c1c" stroke-width="1.0"/>
<text x="192.45" y="247.90" font-size="9" fill="#1e1e1e" stroke="#1e1e1e" stroke-width="0.22" textLength="4.56" lengthAdjust="spacingAndGlyphs">2</text>
<line x1="200.50" y1="220.30" x2="203.50" y2="220.30" stroke="#1c1c1c" stroke-width="1.0"/>
<text x="192.45" y="222.90" font-size="9" fill="#1e1e1e" stroke="#1e1e1e" stroke-width="0.22" textLength="4.56" lengthAdjust="spacingAndGlyphs">3</text>
<line x1="200.50" y1="195.30" x2="203.50" y2="195.30" stroke="#1c1c1c" stroke-width="1.0"/>
<text x="192.45" y="197.90" font-size="9" fill="#1e1e1e" stroke="#1e1e1e" stroke-width="0.22" textLength="4.56" lengthAdjust="spacingAndGlyphs">4</text>
<line x1="200.50" y1="295.50" x2="278.20" y2="295.50" stroke="#1c1c1c" stroke-width="1.3"/>
<line x1="212.70" y1="295.30" x2="212.70" y2="298.20" stroke="#1c1c1c" stroke-width="1.0"/>
<line x1="231.20" y1="295.30" x2="231.20" y2="298.20" stroke="#1c1c1c" stroke-width="1.0"/>
<line x1="250.00" y1="295.30" x2="250.00" y2="298.20" stroke="#1c1c1c" stroke-width="1.0"/>
<line x1="268.70" y1="295.30" x2="268.70" y2="298.20" stroke="#1c1c1c" stroke-width="1.0"/>
<text transform="translate(187.20,280.10) rotate(-90)" x="0" y="0" font-size="9.2" fill="#1e1e1e" stroke="#1e1e1e" stroke-width="0.22" textLength="72.50" lengthAdjust="spacingAndGlyphs">Relative mRNA levels</text>
<line x1="213.10" y1="262.60" x2="213.10" y2="270.30" stroke="#222" stroke-width="0.9"/>
<line x1="210.10" y1="262.60" x2="216.10" y2="262.60" stroke="#222" stroke-width="1.0"/>
<rect x="206.40" y="270.30" width="13.40" height="24.70" fill="#3a6b53" stroke="#1f4a35" stroke-width="0.5"/>
<line x1="231.30" y1="269.60" x2="231.30" y2="274.00" stroke="#222" stroke-width="0.9"/>
<line x1="228.30" y1="269.60" x2="234.30" y2="269.60" stroke="#222" stroke-width="1.0"/>
<rect x="224.60" y="274.00" width="13.40" height="21.00" fill="#582a6c" stroke="#3a1450" stroke-width="0.5"/>
<line x1="249.95" y1="220.90" x2="249.95" y2="230.90" stroke="#222" stroke-width="0.9"/>
<line x1="246.95" y1="220.90" x2="252.95" y2="220.90" stroke="#222" stroke-width="1.0"/>
<rect x="243.20" y="230.90" width="13.50" height="64.10" fill="#a6002f" stroke="#8a0025" stroke-width="0.5"/>
<line x1="268.60" y1="268.00" x2="268.60" y2="270.80" stroke="#222" stroke-width="0.9"/>
<line x1="265.60" y1="268.00" x2="271.60" y2="268.00" stroke="#222" stroke-width="1.0"/>
<rect x="262.20" y="270.80" width="12.80" height="24.20" fill="#2c4b80" stroke="#1a336a" stroke-width="0.5"/>
<line x1="213.00" y1="205.50" x2="244.90" y2="205.50" stroke="#1c1c1c" stroke-width="1.0"/>
<path d="M228.35,201.50L228.35,200.25M228.35,201.50L229.54,201.11M228.35,201.50L229.08,202.51M228.35,201.50L227.62,202.51M228.35,201.50L227.16,201.11" stroke="#2a2a2a" stroke-width="0.85" stroke-linecap="round" fill="none"/>
<path d="M232.05,201.50L232.05,200.25M232.05,201.50L233.24,201.11M232.05,201.50L232.78,202.51M232.05,201.50L231.32,202.51M232.05,201.50L230.86,201.11" stroke="#2a2a2a" stroke-width="0.85" stroke-linecap="round" fill="none"/>
<line x1="231.00" y1="217.00" x2="244.90" y2="217.00" stroke="#222" stroke-width="1.2"/>
<path d="M237.45,213.00L237.45,211.75M237.45,213.00L238.64,212.61M237.45,213.00L238.18,214.01M237.45,213.00L236.72,214.01M237.45,213.00L236.26,212.61" stroke="#2a2a2a" stroke-width="0.85" stroke-linecap="round" fill="none"/>
<path d="M241.15,213.00L241.15,211.75M241.15,213.00L242.34,212.61M241.15,213.00L241.88,214.01M241.15,213.00L240.42,214.01M241.15,213.00L239.96,212.61" stroke="#2a2a2a" stroke-width="0.85" stroke-linecap="round" fill="none"/>
<line x1="255.90" y1="216.60" x2="269.50" y2="216.60" stroke="#222" stroke-width="1.2"/>
<path d="M261.65,213.00L261.65,211.75M261.65,213.00L262.84,212.61M261.65,213.00L262.38,214.01M261.65,213.00L260.92,214.01M261.65,213.00L260.46,212.61" stroke="#2a2a2a" stroke-width="0.85" stroke-linecap="round" fill="none"/>
<path d="M265.35,213.00L265.35,211.75M265.35,213.00L266.54,212.61M265.35,213.00L266.08,214.01M265.35,213.00L264.62,214.01M265.35,213.00L264.16,212.61" stroke="#2a2a2a" stroke-width="0.85" stroke-linecap="round" fill="none"/>
<text x="331.70" y="188.00" font-size="10.8" fill="#1e1e1e" stroke="#1e1e1e" stroke-width="0.22" textLength="35.60" lengthAdjust="spacingAndGlyphs">CXCL10</text>
<line x1="312.20" y1="196.00" x2="312.20" y2="296.30" stroke="#1c1c1c" stroke-width="1.3"/>
<line x1="309.20" y1="295.60" x2="312.20" y2="295.60" stroke="#1c1c1c" stroke-width="1.0"/>
<text x="301.75" y="298.20" font-size="9" fill="#1e1e1e" stroke="#1e1e1e" stroke-width="0.22" textLength="4.56" lengthAdjust="spacingAndGlyphs">0</text>
<line x1="309.20" y1="263.40" x2="312.20" y2="263.40" stroke="#1c1c1c" stroke-width="1.0"/>
<text x="303.70" y="266.00" font-size="9" fill="#1e1e1e" stroke="#1e1e1e" stroke-width="0.22" textLength="2.61" lengthAdjust="spacingAndGlyphs">1</text>
<line x1="309.20" y1="231.20" x2="312.20" y2="231.20" stroke="#1c1c1c" stroke-width="1.0"/>
<text x="301.75" y="233.80" font-size="9" fill="#1e1e1e" stroke="#1e1e1e" stroke-width="0.22" textLength="4.56" lengthAdjust="spacingAndGlyphs">2</text>
<line x1="309.20" y1="199.00" x2="312.20" y2="199.00" stroke="#1c1c1c" stroke-width="1.0"/>
<text x="301.75" y="201.60" font-size="9" fill="#1e1e1e" stroke="#1e1e1e" stroke-width="0.22" textLength="4.56" lengthAdjust="spacingAndGlyphs">3</text>
<line x1="309.20" y1="295.70" x2="391.70" y2="295.70" stroke="#1c1c1c" stroke-width="1.3"/>
<line x1="322.30" y1="295.60" x2="322.30" y2="298.40" stroke="#1c1c1c" stroke-width="1.0"/>
<line x1="342.20" y1="295.60" x2="342.20" y2="298.40" stroke="#1c1c1c" stroke-width="1.0"/>
<line x1="362.20" y1="295.60" x2="362.20" y2="298.40" stroke="#1c1c1c" stroke-width="1.0"/>
<line x1="382.30" y1="295.60" x2="382.30" y2="298.40" stroke="#1c1c1c" stroke-width="1.0"/>
<text transform="translate(295.80,281.70) rotate(-90)" x="0" y="0" font-size="9.2" fill="#1e1e1e" stroke="#1e1e1e" stroke-width="0.22" textLength="71.90" lengthAdjust="spacingAndGlyphs">Relative mRNA levels</text>
<line x1="322.30" y1="256.40" x2="322.30" y2="261.80" stroke="#222" stroke-width="0.9"/>
<line x1="319.00" y1="256.40" x2="325.60" y2="256.40" stroke="#222" stroke-width="1.0"/>
<rect x="315.30" y="261.80" width="14.00" height="33.40" fill="#3a6b53" stroke="#1f4a35" stroke-width="0.5"/>
<line x1="342.25" y1="266.00" x2="342.25" y2="270.00" stroke="#222" stroke-width="0.9"/>
<line x1="338.95" y1="266.00" x2="345.55" y2="266.00" stroke="#222" stroke-width="1.0"/>
<rect x="335.40" y="270.00" width="13.70" height="25.20" fill="#582a6c" stroke="#3a1450" stroke-width="0.5"/>
<line x1="362.30" y1="212.10" x2="362.30" y2="235.80" stroke="#222" stroke-width="0.9"/>
<line x1="359.00" y1="212.10" x2="365.60" y2="212.10" stroke="#222" stroke-width="1.0"/>
<rect x="355.20" y="235.80" width="14.20" height="59.40" fill="#a6002f" stroke="#8a0025" stroke-width="0.5"/>
<line x1="382.05" y1="265.40" x2="382.05" y2="266.90" stroke="#222" stroke-width="0.9"/>
<line x1="378.75" y1="265.40" x2="385.35" y2="265.40" stroke="#222" stroke-width="1.0"/>
<rect x="375.10" y="266.90" width="13.90" height="28.30" fill="#2c4b80" stroke="#1a336a" stroke-width="0.5"/>
<line x1="323.70" y1="200.00" x2="355.20" y2="200.00" stroke="#1c1c1c" stroke-width="1.0"/>
<path d="M338.05,196.00L338.05,194.75M338.05,196.00L339.24,195.61M338.05,196.00L338.78,197.01M338.05,196.00L337.32,197.01M338.05,196.00L336.86,195.61" stroke="#2a2a2a" stroke-width="0.85" stroke-linecap="round" fill="none"/>
<path d="M341.75,196.00L341.75,194.75M341.75,196.00L342.94,195.61M341.75,196.00L342.48,197.01M341.75,196.00L341.02,197.01M341.75,196.00L340.56,195.61" stroke="#2a2a2a" stroke-width="0.85" stroke-linecap="round" fill="none"/>
<line x1="343.20" y1="210.20" x2="355.60" y2="210.20" stroke="#222" stroke-width="1.2"/>
<path d="M347.65,206.40L347.65,205.15M347.65,206.40L348.84,206.01M347.65,206.40L348.38,207.41M347.65,206.40L346.92,207.41M347.65,206.40L346.46,206.01" stroke="#2a2a2a" stroke-width="0.85" stroke-linecap="round" fill="none"/>
<path d="M351.35,206.40L351.35,205.15M351.35,206.40L352.54,206.01M351.35,206.40L352.08,207.41M351.35,206.40L350.62,207.41M351.35,206.40L350.16,206.01" stroke="#2a2a2a" stroke-width="0.85" stroke-linecap="round" fill="none"/>
<line x1="368.10" y1="210.20" x2="380.80" y2="210.20" stroke="#222" stroke-width="1.2"/>
<path d="M372.85,206.40L372.85,205.15M372.85,206.40L374.04,206.01M372.85,206.40L373.58,207.41M372.85,206.40L372.12,207.41M372.85,206.40L371.66,206.01" stroke="#2a2a2a" stroke-width="0.85" stroke-linecap="round" fill="none"/>
<path d="M376.55,206.40L376.55,205.15M376.55,206.40L377.74,206.01M376.55,206.40L377.28,207.41M376.55,206.40L375.82,207.41M376.55,206.40L375.36,206.01" stroke="#2a2a2a" stroke-width="0.85" stroke-linecap="round" fill="none"/>
<rect x="396.10" y="186.80" width="9.10" height="4.80" fill="#3a6b53"/>
<text x="408.60" y="191.70" font-size="8.2" fill="#1e1e1e" stroke="#1e1e1e" stroke-width="0.22" textLength="14.00" lengthAdjust="spacingAndGlyphs">Con</text>
<rect x="396.10" y="199.10" width="9.10" height="4.80" fill="#582a6c"/>
<text x="408.60" y="204.00" font-size="8.2" fill="#1e1e1e" stroke="#1e1e1e" stroke-width="0.22" textLength="23.51" lengthAdjust="spacingAndGlyphs">Tempo</text>
<rect x="396.10" y="211.40" width="9.10" height="4.80" fill="#a6002f"/>
<text x="408.60" y="216.30" font-size="8.2" fill="#1e1e1e" stroke="#1e1e1e" stroke-width="0.22" textLength="22.79" lengthAdjust="spacingAndGlyphs">TMAO</text>
<rect x="396.10" y="223.70" width="9.10" height="4.80" fill="#2c4b80"/>
<text x="408.60" y="228.60" font-size="8.2" fill="#1e1e1e" stroke="#1e1e1e" stroke-width="0.22" textLength="51.59" lengthAdjust="spacingAndGlyphs">TMAO+Tempo</text>
</svg>
</body></html>
